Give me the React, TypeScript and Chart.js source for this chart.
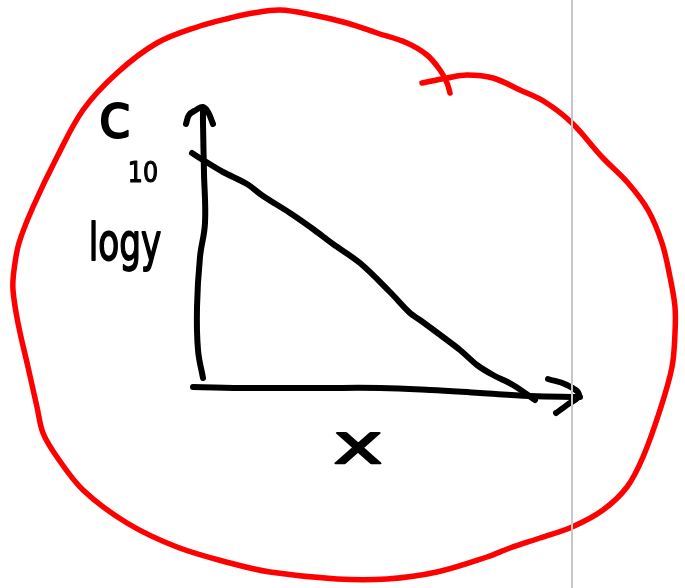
import React, { useEffect, useRef } from "react";
import { Chart, registerables } from "chart.js";

Chart.register(...registerables);

type Pt = [number, number];

// Sketch strokes, in page units (x to the right, y downward)
const redLoop: Pt[] = [
  [422, 83], [447, 78], [467, 75], [493, 78], [520, 90], [545, 102], [572, 123],
  [602, 157], [628, 183], [648, 210], [662, 243], [670, 277], [675, 307], [675, 333],
  [672, 367], [660, 410], [643, 457], [627, 487], [603, 510], [572, 527], [540, 538],
  [510, 548], [487, 557], [437, 572], [387, 579], [337, 579], [270, 572], [230, 563],
  [177, 547], [127, 523], [83, 490], [57, 457], [43, 433], [37, 407], [28, 367],
  [18, 323], [13, 290], [14, 270], [19, 243], [33, 207], [57, 157], [83, 110],
  [117, 73], [157, 43], [200, 26], [230, 18], [253, 13], [280, 10], [313, 15],
  [347, 23], [377, 33], [407, 43], [427, 55], [440, 70], [447, 83], [450, 93],
];

const yAxisStroke: Pt[] = [
  [203, 378], [198, 350], [197, 307], [200, 257], [205, 223], [204, 173], [203, 123], [203, 108],
];

const yArrowHead: Pt[] = [
  [186, 124], [189, 115], [196, 110], [203, 107], [208, 112], [213, 124],
];

const xAxisStroke: Pt[] = [
  [193, 387], [250, 388], [320, 388], [380, 388], [430, 390], [480, 393], [530, 396], [580, 397],
];

const xArrowHead: Pt[] = [
  [548, 379], [567, 385], [579, 395], [567, 405], [556, 413],
];

const decayCurve: Pt[] = [
  [192, 153], [203, 160], [223, 172], [247, 184], [263, 196], [290, 213], [313, 229],
  [333, 244], [360, 263], [390, 292], [410, 313], [420, 320], [443, 337], [460, 350],
  [477, 365], [493, 375], [513, 385], [535, 400],
];

const guideLine: Pt[] = [[572, 0], [572, 588]];

// Handwritten labels
const labelTexts = ["c", "10", "logy", "x"];
const labelAnchors: Pt[] = [[115, 137], [143, 182], [125, 260], [358, 463]];
const labelSizes = [60, 28, 52, 56];
const labelStretch = [1, 0.85, 0.66, 1.5];

const toXY = (pts: Pt[]) => pts.map(([x, y]) => ({ x, y }));

// Labels: regular face, outlined once more so the strokes read like pen lines
const labelPlugin = {
  id: "sketchLabels",
  afterDatasetsDraw(chart: any) {
    const { ctx, scales } = chart;
    ctx.save();
    ctx.fillStyle = "#000";
    ctx.strokeStyle = "#000";
    ctx.lineJoin = "round";
    ctx.textAlign = "center";
    ctx.textBaseline = "alphabetic";
    labelTexts.forEach((t, i) => {
      const px = scales.x.getPixelForValue(labelAnchors[i][0]);
      const py = scales.y.getPixelForValue(labelAnchors[i][1]);
      ctx.save();
      ctx.translate(px, py);
      ctx.scale(labelStretch[i], 1);
      ctx.font = `${labelSizes[i]}px "DejaVu Sans"`;
      ctx.lineWidth = labelSizes[i] > 40 ? 1.8 : 1.2;
      ctx.fillText(t, 0, 0);
      ctx.strokeText(t, 0, 0);
      ctx.restore();
    });
    ctx.restore();
  },
};

export default function App() {
  const ref = useRef<HTMLCanvasElement>(null);

  useEffect(() => {
    if (!ref.current) return;
    const stroke = (pts: Pt[], color: string, width: number, tension: number) => ({
      data: toXY(pts),
      showLine: true,
      borderColor: color,
      backgroundColor: color,
      borderWidth: width,
      borderCapStyle: "round" as const,
      borderJoinStyle: "round" as const,
      pointRadius: 0,
      pointHoverRadius: 0,
      tension,
      fill: false,
    });
    const chart = new Chart(ref.current, {
      type: "scatter",
      data: {
        datasets: [
          stroke(guideLine, "#c8c8c8", 2, 0),
          stroke(redLoop, "#ff0000", 5.5, 0.35),
          stroke(yAxisStroke, "#000000", 6, 0.4),
          stroke(yArrowHead, "#000000", 6, 0.4),
          stroke(xAxisStroke, "#000000", 6, 0.4),
          stroke(xArrowHead, "#000000", 6, 0.4),
          stroke(decayCurve, "#000000", 6, 0.35),
        ],
      },
      options: {
        responsive: false,
        animation: false,
        layout: { padding: 0 },
        plugins: { legend: { display: false }, tooltip: { enabled: false } },
        scales: {
          x: { type: "linear", min: 0, max: 685, display: false },
          y: { type: "linear", min: 0, max: 588, reverse: true, display: false },
        },
      },
      plugins: [labelPlugin],
    });
    return () => chart.destroy();
  }, []);

  return (
    <div style={{ position: "fixed", left: 0, top: 0, width: 685, height: 588, background: "#fff" }}>
      <canvas ref={ref} width={685} height={588} />
    </div>
  );
}
